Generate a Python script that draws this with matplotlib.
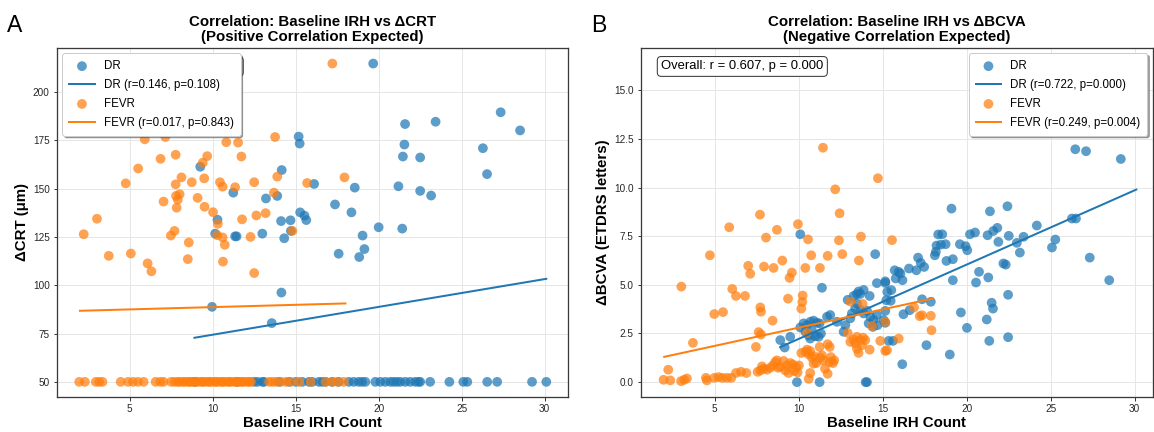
import matplotlib
matplotlib.use('Agg')
import numpy as np
import matplotlib.pyplot as plt

plt.rcParams['font.family'] = ['Liberation Sans', 'DejaVu Sans']

# ---------------- data ----------------
DR_COLOR = '#1f77b4'
FEVR_COLOR = '#ff7f0e'

# Panel A: baseline IRH vs delta CRT
dr_crt_x = [9.25, 10.29, 10.15, 11.24, 11.35, 11.44, 12.99, 13.21, 13.89, 14.12, 14.16, 14.31,
            14.69, 14.71, 15.18, 15.24, 15.27, 15.53, 15.64, 16.11, 17.37, 17.59, 18.36, 18.56,
            19.03, 18.83, 19.14, 20.0, 21.19, 21.42, 21.46, 21.55, 22.50, 22.50, 23.16, 26.28,
            26.53, 19.67, 21.59, 23.43, 27.35, 28.52, 14.14, 9.96, 13.56,
            8.9, 11.5, 12.5, 12.7, 13.0, 13.1, 14.0, 14.6, 15.0, 15.4, 15.8, 16.0, 16.4, 16.6,
            16.8, 17.2, 17.6, 18.2, 18.5, 18.8, 19.0, 19.2, 19.8, 20.1, 20.4, 20.7, 20.9, 21.1,
            21.3, 21.6, 21.9, 22.2, 22.4, 22.5, 23.1, 24.26, 25.1, 25.34, 26.54, 27.14, 29.24, 30.1]
dr_crt_y = [161.3, 133.9, 126.7, 147.9, 125.3, 125.3, 126.7, 144.9, 146.2, 133.2, 159.6, 124.3,
            133.6, 128.1, 176.9, 173.3, 137.7, 136.0, 133.7, 152.4, 141.8, 116.3, 137.7, 150.5,
            125.7, 114.6, 118.7, 130.0, 151.2, 129.3, 166.6, 172.8, 166.1, 148.8, 146.4, 170.9,
            157.5, 214.7, 183.4, 184.6, 189.5, 180.1, 96.2, 88.8, 80.4,
            50, 50, 50, 50, 50, 50, 50, 50, 50, 50, 50, 50, 50, 50,
            50, 50, 50, 50, 50, 50, 50, 50, 50, 50, 50, 50, 50, 50,
            50, 50, 50, 50, 50, 50, 50, 50, 50, 50, 50, 50, 50, 50]

fevr_crt_x = [2.23, 3.03, 3.74, 4.76, 5.07, 5.51, 5.91, 6.08, 6.31, 6.86, 7.04, 7.15, 7.48, 7.70,
              7.77, 7.77, 7.79, 7.83, 7.90, 8.01, 8.12, 8.50, 8.56, 8.74, 9.09, 9.40, 9.49, 9.51,
              9.67, 10.02, 10.31, 10.27, 10.44, 10.60, 10.60, 10.73, 10.62, 10.82, 11.35, 11.53,
              11.73, 11.77, 12.28, 12.5, 12.5, 12.63, 13.19, 13.76, 13.69, 13.89, 14.80, 15.69,
              17.94, 17.21,
              1.96, 2.3, 2.96, 3.16, 3.36, 4.46, 4.9, 5.2, 5.5, 5.84, 6.56, 6.84, 7.04, 7.5, 7.7,
              7.9, 8.0, 8.2, 8.3, 8.5, 8.6, 8.7, 8.9, 9.0, 9.1, 9.3, 9.4, 9.5, 9.7, 9.8, 9.9,
              10.1, 10.2, 10.3, 10.5, 10.6, 10.7, 10.9, 11.0, 11.1, 11.3, 11.4, 11.5, 11.7, 11.8,
              11.9, 12.1, 12.2, 12.3, 13.4, 13.6, 13.8, 14.1, 14.4, 14.7, 15.2, 15.9, 16.8, 17.2,
              17.5, 17.9]
fevr_crt_y = [126.4, 134.4, 115.2, 152.7, 116.4, 160.4, 175.5, 111.3, 107.2, 165.4, 143.3, 176.7,
              125.7, 128.1, 167.5, 152.2, 146.2, 140.1, 144.3, 147.1, 155.8, 113.5, 122.1, 153.3,
              145.2, 163.4, 155.3, 140.6, 166.8, 137.8, 131.8, 125.9, 153.3, 124.7, 151.0, 120.9,
              112.2, 174.0, 150.7, 173.8, 166.6, 134.1, 125.0, 153.3, 106.3, 136.1, 137.3, 176.7,
              147.9, 156.2, 128.1, 152.9, 155.8, 214.7,
              50, 50, 50, 50, 50, 50, 50, 50, 50, 50, 50, 50, 50, 50, 50,
              50, 50, 50, 50, 50, 50, 50, 50, 50, 50, 50, 50, 50, 50, 50, 50,
              50, 50, 50, 50, 50, 50, 50, 50, 50, 50, 50, 50, 50, 50,
              50, 50, 50, 50, 50, 50, 50, 50, 50, 50, 50, 50, 50, 50,
              50, 50]

# Panel B: baseline IRH vs delta BCVA
dr_bcva_x = [10.10, 11.39, 14.56, 14.66, 15.16, 12.92, 13.27, 13.47, 13.57, 13.67, 13.87, 14.23,
             8.91, 9.17, 9.5, 9.9, 11.25, 10.1, 10.3, 10.5, 10.69, 10.89, 11.09, 11.25, 10.4,
             10.6, 10.79, 10.99, 11.19, 10.69, 11.33, 11.69, 11.88, 12.28, 12.68, 12.78, 13.08,
             13.17, 13.37, 13.47, 13.67, 13.87, 14.07, 14.27, 14.46, 14.66, 14.17, 14.42, 14.7,
             15.06, 13.99, 14.07, 15.36,
             26.47, 27.11, 29.18, 19.10, 21.39, 22.43, 24.18, 26.27, 26.51, 18.31, 18.55, 20.2,
             20.5, 21.25, 21.59, 21.83, 22.51, 21.89, 22.99, 23.39, 23.17, 25.08, 25.28, 27.33,
             28.49, 18.21, 18.47, 18.75, 19.6, 19.94, 20.04, 18.11, 18.17, 17.11, 17.27, 17.47,
             18.80, 19.18, 15.72, 15.96, 16.06, 15.78, 16.18, 16.57, 17.01, 19.18, 20.74, 20.56,
             21.29, 22.19, 22.33, 22.47, 21.49, 21.57, 21.2, 19.66, 20.02, 21.35, 22.47, 19.0,
             17.61, 16.17, 15.16, 15.52, 15.28, 15.22, 15.48, 15.16, 15.16, 16.24, 16.61, 17.35,
             17.87, 15.62]
dr_bcva_y = [7.6, 4.85, 6.58, 5.09, 5.18, 4.23, 4.43, 4.53, 4.66, 4.53, 4.74, 4.43,
             2.16, 1.78, 2.33, 0.0, 0.0, 2.81, 3.02, 2.93, 3.1, 3.16, 3.05, 3.02, 2.59,
             2.41, 2.67, 2.36, 2.33, 2.24, 2.5, 3.36, 3.45, 3.1, 2.59, 2.93, 3.28,
             3.53, 3.79, 4.05, 3.71, 3.53, 3.67, 3.36, 3.19, 3.45, 3.02, 2.84, 2.93,
             3.19, 0.0, 0.0, 2.12,
             11.97, 11.87, 11.47, 8.92, 8.78, 9.04, 8.05, 8.41, 8.41, 7.59, 7.6, 7.6,
             7.69, 7.55, 7.77, 7.93, 7.52, 7.21, 7.16, 7.47, 6.66, 6.92, 7.33, 6.4,
             5.24, 7.02, 7.07, 7.09, 7.09, 6.99, 6.78, 6.52, 6.70, 6.40, 6.13, 5.92,
             6.23, 6.32, 5.75, 5.67, 5.58, 5.33, 5.24, 5.84, 5.75, 5.24, 5.67, 5.12,
             5.38, 6.10, 6.04, 4.49, 4.08, 3.78, 3.22, 3.58, 2.79, 2.12, 2.31, 1.42,
             1.9, 0.92, 5.1, 4.73, 4.64, 4.21, 4.18, 3.66, 3.05, 3.49, 3.7, 4.26,
             4.13, 2.12]

fevr_bcva_x = [3.02, 4.72, 5.87, 6.05, 6.27, 6.81, 7.0, 7.12, 7.70, 7.94, 8.06, 8.51, 8.71, 9.03,
               9.46, 9.6, 9.37, 9.96, 10.40, 10.56, 10.24, 10.75, 11.27, 11.45, 11.73, 12.18,
               12.40, 12.44, 12.60, 13.59, 13.71, 14.72, 15.56,
               1.96, 2.24, 2.36, 3.0, 3.19, 3.35, 3.71, 4.48, 4.54, 4.98, 4.98, 5.24, 5.5, 5.46,
               5.73, 5.99, 6.27, 6.57, 6.89, 7.46, 7.62, 7.76, 7.72, 7.76, 8.45, 7.56, 7.72, 7.82,
               7.92, 8.12, 8.31, 8.47, 8.61, 8.71, 8.77, 8.91, 9.11, 9.21, 9.31, 9.40, 9.50, 9.66,
               9.74, 9.86, 9.94, 10.02, 10.22, 10.16, 10.16, 10.4, 10.5, 10.6, 10.69, 10.79, 10.89,
               10.93, 11.05, 11.25, 11.29, 11.39, 11.47, 11.57, 11.73, 11.85, 11.92, 12.04, 12.12,
               10.6, 10.69, 10.5, 11.73, 11.85, 13.08, 13.81, 12.92, 13.08, 13.27, 13.37, 13.47,
               13.67, 13.47, 13.57, 13.77, 13.97, 13.83, 14.23, 14.37, 14.86, 15.16, 15.16, 15.26,
               15.96, 16.87, 17.21, 17.35, 17.87, 17.91]
fevr_bcva_y = [4.91, 6.52, 7.96, 4.79, 4.43, 4.43, 5.98, 5.57, 8.61, 5.94, 7.43, 5.87, 7.83, 6.25,
               5.36, 5.63, 4.29, 8.12, 5.87, 7.34, 4.45, 6.52, 5.87, 12.05, 6.49, 9.91,
               7.29, 8.68, 6.58, 6.25, 7.48, 10.48, 7.3,
               0.12, 0.64, 0.09, 0.05, 0.12, 0.19, 2.02, 0.22, 0.09, 3.5, 0.22, 0.26, 3.6, 0.22,
               0.22, 0.22, 0.47, 0.53, 0.47, 1.81, 2.57, 2.45, 3.84, 3.62, 3.16, 0.53, 0.6, 0.81,
               0.69, 0.64, 0.74, 0.86, 1.03, 1.12, 0.74, 0.78, 1.09, 0.60, 0.86, 0.47, 0.98, 0.91,
               0.57, 0.78, 0.50, 0.86, 4.12, 3.78, 1.5, 1.55, 1.67, 1.43, 1.6, 1.26, 0.95,
               1.33, 0.98, 1.81, 1.26, 1.38, 1.12, 0.69, 0.43, 1.03, 1.29, 0.98, 1.12,
               0.17, 0.47, 2.53, 1.95, 1.81, 4.14, 4.02, 2.53, 2.07, 2.19, 1.98, 2.33,
               2.16, 1.72, 1.5, 1.9, 2.16, 2.29, 1.67, 2.88, 2.12, 1.6, 3.1, 1.64,
               2.24, 3.84, 3.39, 3.44, 3.41, 2.67]

# regression lines (slope, intercept) and baseline IRH range of each group
dr_irh_range = [8.9, 30.1]
fevr_irh_range = [2.0, 18.0]
dr_fit_crt = (1.439, 60.0)
fevr_fit_crt = (0.2375, 86.3)
dr_fit_bcva = (0.382, -1.6)
fevr_fit_bcva = (0.1875, 0.925)

dr_label_crt = 'DR (r=0.146, p=0.108)'
fevr_label_crt = 'FEVR (r=0.017, p=0.843)'
dr_label_bcva = 'DR (r=0.722, p=0.000)'
fevr_label_bcva = 'FEVR (r=0.249, p=0.004)'
overall_crt = 'Overall: r = 0.173, p = 0.007'
overall_bcva = 'Overall: r = 0.607, p = 0.000'


def style_axes(ax):
    ax.set_facecolor('white')
    ax.grid(True, color='#e6e6e6', linewidth=1.0)
    ax.set_axisbelow(True)
    for s in ax.spines.values():
        s.set_color('#3a3a3a')
        s.set_linewidth(1.3)
    ax.tick_params(axis='both', labelsize=10, length=3.5, width=1, color='#3a3a3a',
                   labelcolor='#262626')


def draw_panel(ax, dx, dy, fx, fy, dfit, ffit, dlab, flab, overall, title, ylabel, loc):
    ax.scatter(dx, dy, s=95, color=DR_COLOR, alpha=0.72, edgecolors='none', label='DR', zorder=2)
    xr = np.array(dr_irh_range)
    ax.plot(xr, dfit[0] * xr + dfit[1], color=DR_COLOR, lw=2, label=dlab, zorder=3)
    ax.scatter(fx, fy, s=95, color=FEVR_COLOR, alpha=0.72, edgecolors='none', label='FEVR', zorder=2)
    xr = np.array(fevr_irh_range)
    ax.plot(xr, ffit[0] * xr + ffit[1], color=FEVR_COLOR, lw=2, label=flab, zorder=3)

    ax.text(0.04, 0.963, overall, transform=ax.transAxes, fontsize=13, va='top', ha='left',
            bbox=dict(boxstyle='round,pad=0.3', facecolor='white', edgecolor='#333333', lw=1),
            zorder=4)
    leg = ax.legend(loc=loc, fontsize=11.5, frameon=True, fancybox=True, shadow=True,
                    framealpha=1, edgecolor='#cccccc', borderpad=0.6, labelspacing=0.6,
                    handlelength=2.2, markerscale=1.0)
    leg.set_zorder(6)
    ax.set_title(title, fontsize=15, fontweight='bold', pad=7, linespacing=1.05)
    ax.set_xlabel('Baseline IRH Count', fontsize=15, fontweight='bold', labelpad=2)
    ax.set_ylabel(ylabel, fontsize=15, fontweight='bold', labelpad=4)
    style_axes(ax)


fig = plt.figure(figsize=(1154 / 72, 432 / 72), dpi=72)
ax1 = fig.add_axes([0.0491, 0.0803, 0.4430, 0.8097])
ax2 = fig.add_axes([0.5552, 0.0803, 0.4440, 0.8097])

draw_panel(ax1, dr_crt_x, dr_crt_y, fevr_crt_x, fevr_crt_y, dr_fit_crt, fevr_fit_crt,
           dr_label_crt, fevr_label_crt, overall_crt,
           'Correlation: Baseline IRH vs ΔCRT\n(Positive Correlation Expected)',
           'ΔCRT (μm)', 'upper left')
draw_panel(ax2, dr_bcva_x, dr_bcva_y, fevr_bcva_x, fevr_bcva_y, dr_fit_bcva, fevr_fit_bcva,
           dr_label_bcva, fevr_label_bcva, overall_bcva,
           'Correlation: Baseline IRH vs ΔBCVA\n(Negative Correlation Expected)',
           'ΔBCVA (ETDRS letters)', 'upper right')

ax1.set_xlim(0.6, 31.4)
ax1.set_ylim(42, 223)
ax1.set_yticks([50, 75, 100, 125, 150, 175, 200])
ax2.set_xlim(0.6, 31.1)
ax2.set_ylim(-0.78, 17.2)
ax2.set_yticks([0, 2.5, 5, 7.5, 10, 12.5, 15])

fig.text(0.006, 0.968, 'A', fontsize=23, va='top', ha='left')
fig.text(0.512, 0.968, 'B', fontsize=23, va='top', ha='left')

fig.savefig('out.png', dpi=72)
